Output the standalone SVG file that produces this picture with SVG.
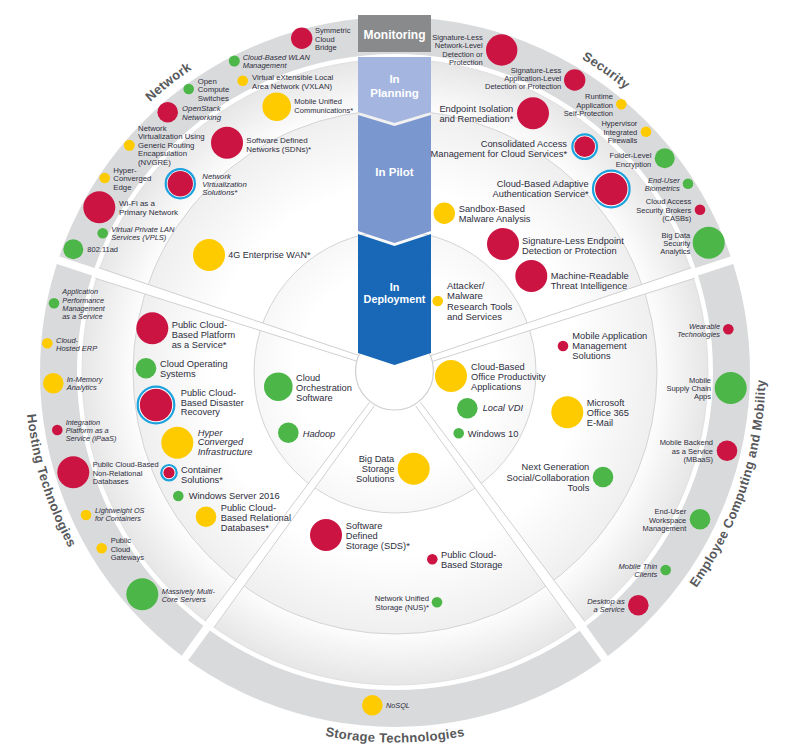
<svg xmlns="http://www.w3.org/2000/svg" width="793" height="756" viewBox="0 0 793 756">
<defs>
<style>
.t{font-family:"Liberation Sans",Arial,sans-serif;fill:#2e2e3d}
.a{font-size:7.5px}.a3{font-size:7.3px}.a8{font-size:7.8px}.a9{font-size:8px}
.b{font-size:9.3px}.b9{font-size:9px}
.i{font-style:italic}.e{text-anchor:end}
.r{fill:#cc1443}.y{fill:#fecb00}.g{fill:#4cb748}
.ring{fill:#fff;stroke:#1ca2dc;stroke-width:2.2}
.cat{font-family:"Liberation Sans",Arial,sans-serif;font-weight:bold;font-size:13px;fill:#58595b;letter-spacing:0.3px}
.col{font-family:"Liberation Sans",Arial,sans-serif;font-weight:bold;fill:#fff;text-anchor:middle}
.band{fill:#fff}
.edge{stroke:#d0d0d2;stroke-width:1;fill:none}
.gap{stroke:#fff;stroke-width:8;fill:none}
.rl{stroke:#d4d4d6;stroke-width:1}
</style>
<radialGradient id="g3"><stop offset="0.82" stop-color="#fff"/><stop offset="1" stop-color="#e6e6e7"/></radialGradient>
<radialGradient id="g2"><stop offset="0.7" stop-color="#fff"/><stop offset="1" stop-color="#efeff0"/></radialGradient>
<radialGradient id="g1"><stop offset="0.7" stop-color="#fff"/><stop offset="1" stop-color="#f7f7f7"/></radialGradient>
<path id="pNet" d="M52.5,247.3 A364.5,364.5 0 0,1 356.9,9.5"/>
<path id="pSec" d="M414.1,8.0 A364.5,364.5 0 0,1 730.5,229.6"/>
<path id="pEmp" d="M531.4,716.5 A370.5,370.5 0 0,0 710.6,177.9"/>
<path id="pSto" d="M111.2,610.2 A370.5,370.5 0 0,0 678.8,610.2"/>
<path id="pHos" d="M82.5,172.9 A370.5,370.5 0 0,0 253.2,714.3"/>
</defs>
<rect width="793" height="756" fill="#fff"/>

<g id="background">
<circle cx="395" cy="372" r="336.5" fill="none" stroke="#d9dadb" stroke-width="37"/>
<circle cx="395" cy="372" r="313" fill="url(#g3)" stroke="#dcdcde" stroke-width="0.8"/>
<circle cx="395" cy="372" r="262" fill="url(#g2)" class="rl"/>
<circle cx="395" cy="372" r="141" fill="url(#g1)" class="rl"/>
</g>

<g id="connectors">
<line class="gap" x1="97" y1="273" x2="30" y2="251"/>
<line class="gap" x1="693" y1="273" x2="760" y2="251"/>
<line class="gap" x1="209.6" y1="624.2" x2="170.7" y2="677.5"/>
<line class="gap" x1="580.5" y1="624.9" x2="618" y2="677"/>
<polygon class="band" points="360.93,356.15 98.71,267.77 95.29,278.23 359.07,361.85"/>
<line class="edge" x1="360.93" y1="356.15" x2="98.71" y2="267.77"/>
<line class="edge" x1="359.07" y1="361.85" x2="95.29" y2="278.23"/>
<polygon class="band" points="429.07,356.15 691.29,267.77 694.71,278.23 430.93,361.85"/>
<line class="edge" x1="429.07" y1="356.15" x2="691.29" y2="267.77"/>
<line class="edge" x1="430.93" y1="361.85" x2="694.71" y2="278.23"/>
<polygon class="band" points="374.41,405.78 214.03,627.46 205.17,620.94 369.59,402.22"/>
<line class="edge" x1="374.41" y1="405.78" x2="214.03" y2="627.46"/>
<line class="edge" x1="369.59" y1="402.22" x2="205.17" y2="620.94"/>
<polygon class="band" points="420.42,402.22 584.93,621.64 576.07,628.16 415.58,405.78"/>
<line class="edge" x1="420.42" y1="402.22" x2="584.93" y2="621.64"/>
<line class="edge" x1="415.58" y1="405.78" x2="576.07" y2="628.16"/>
<circle cx="394.5" cy="371" r="39" fill="#fff" stroke="#cfcfd1" stroke-width="1.2"/>
</g>

<g id="column">
<rect x="358" y="15" width="73" height="37" fill="#898a8c"/>
<text class="col" x="394.5" y="39.3" font-size="12">Monitoring</text>
<polygon points="358,57 431,57 431,112 394.5,123 358,112" fill="#a4b6df"/>
<text class="col" font-size="11.5"><tspan x="394.5" y="83.4">In</tspan><tspan x="394.5" y="97.4">Planning</tspan></text>
<polygon points="358,115 394.5,126 431,115 431,231 394.5,243 358,231" fill="#7a97cf"/>
<text class="col" x="394.5" y="175.8" font-size="11.5">In Pilot</text>
<polygon points="358,234 394.5,246 431,234 431,353 394.5,365 358,353" fill="#1868b7"/>
<text class="col" font-size="10.8"><tspan x="394.5" y="290.6">In</tspan><tspan x="394.5" y="302.9">Deployment</tspan></text>
</g>

<g id="categories">
<text class="cat"><textPath href="#pNet" startOffset="50%" text-anchor="middle">Network</textPath></text>
<text class="cat"><textPath href="#pSec" startOffset="50%" text-anchor="middle">Security</textPath></text>
<text class="cat"><textPath href="#pEmp" startOffset="50%" text-anchor="middle">Employee Computing and Mobility</textPath></text>
<text class="cat"><textPath href="#pSto" startOffset="50%" text-anchor="middle">Storage Technologies</textPath></text>
<text class="cat"><textPath href="#pHos" startOffset="50%" text-anchor="middle">Hosting Technologies</textPath></text>
</g>

<g id="n-wlan"><circle class="g" cx="234.3" cy="61" r="5.5"/><text class="t a i"><tspan x="242.7" y="60">Cloud-Based WLAN</tspan><tspan x="242.7" dy="8.4">Management</tspan></text></g>
<g id="n-vxlan"><circle class="y" cx="242.7" cy="80.7" r="5.3"/><text class="t a8"><tspan x="252" y="79.5">Virtual eXtensible Local</tspan><tspan x="252" dy="9">Area Network (VXLAN)</tspan></text></g>
<g id="n-occ"><circle class="g" cx="188.7" cy="89" r="5.3"/><text class="t a8"><tspan x="197.7" y="83.5">Open</tspan><tspan x="197.7" dy="8.5">Compute</tspan><tspan x="197.7" dy="8.5">Switches</tspan></text></g>
<g id="n-openstack"><circle class="r" cx="167.7" cy="112.3" r="10.3"/><text class="t a8 i"><tspan x="182" y="111.1">OpenStack</tspan><tspan x="182" dy="8.4">Networking</tspan></text></g>
<g id="n-nvgre"><circle class="y" cx="129.3" cy="145.3" r="5.5"/><text class="t a8"><tspan x="138" y="130.8">Network</tspan><tspan x="138" dy="8.5">Virtualization Using</tspan><tspan x="138" dy="8.5">Generic Routing</tspan><tspan x="138" dy="8.5">Encapsulation</tspan><tspan x="138" dy="8.5">(NVGRE)</tspan></text></g>
<g id="n-hce"><circle class="y" cx="104.7" cy="178" r="5.3"/><text class="t a8"><tspan x="113.3" y="172.5">Hyper-</tspan><tspan x="113.3" dy="8.5">Converged</tspan><tspan x="113.3" dy="8.5">Edge</tspan></text></g>
<g id="n-wifi"><circle class="r" cx="99.3" cy="207.3" r="16"/><text class="t a9"><tspan x="119" y="206.2">Wi-Fi as a</tspan><tspan x="119" dy="8.7">Primary Network</tspan></text></g>
<g id="n-vpls"><circle class="g" cx="102.7" cy="233.3" r="5.3"/><text class="t a i"><tspan x="111.3" y="232">Virtual Private LAN</tspan><tspan x="111.3" dy="8">Services (VPLS)</tspan></text></g>
<g id="n-80211ad"><circle class="g" cx="73.3" cy="249.3" r="10"/><text class="t a" x="87.3" y="252">802.11ad</text></g>
<g id="n-scb"><circle class="r" cx="301.7" cy="38.3" r="10.7"/><text class="t a"><tspan x="315" y="33.4">Symmetric</tspan><tspan x="315" dy="8.3">Cloud</tspan><tspan x="315" dy="8.3">Bridge</tspan></text></g>
<g id="n-muc"><circle class="y" cx="276.7" cy="106.7" r="14.3"/><text class="t a"><tspan x="294.3" y="104.4">Mobile Unified</tspan><tspan x="294.3" dy="8.3">Communications*</tspan></text></g>
<g id="n-sdn"><circle class="r" cx="227" cy="142.7" r="16"/><text class="t a9"><tspan x="246.3" y="142.9">Software Defined</tspan><tspan x="246.3" dy="9.3">Networks (SDNs)*</tspan></text></g>
<g id="n-nvs"><circle class="ring" cx="180.3" cy="183.7" r="14.6"/><circle class="r" cx="180.3" cy="183.7" r="12.7"/><text class="t a8 i"><tspan x="202.3" y="178.8">Network</tspan><tspan x="202.3" dy="8.3">Virtualization</tspan><tspan x="202.3" dy="8.3">Solutions*</tspan></text></g>
<g id="n-4g"><circle class="y" cx="209" cy="255" r="16"/><text class="t b9" x="228.3" y="258.2">4G Enterprise WAN*</text></g>

<g id="n-slnl"><circle class="r" cx="501.7" cy="50" r="15.7"/><text class="t a e"><tspan x="482.7" y="40">Signature-Less</tspan><tspan x="482.7" dy="8.3">Network-Level</tspan><tspan x="482.7" dy="8.3">Detection or</tspan><tspan x="482.7" dy="8.3">Protection</tspan></text></g>
<g id="n-slal"><circle class="r" cx="574.7" cy="80" r="10.7"/><text class="t a e"><tspan x="561.3" y="73.4">Signature-Less</tspan><tspan x="561.3" dy="8">Application-Level</tspan><tspan x="561.3" dy="8">Detection or Protection</tspan></text></g>
<g id="n-rasp"><circle class="y" cx="621.3" cy="104.3" r="5.3"/><text class="t a e"><tspan x="613" y="99.4">Runtime</tspan><tspan x="613" dy="8.3">Application</tspan><tspan x="613" dy="8.3">Self-Protection</tspan></text></g>
<g id="n-hif"><circle class="y" cx="646" cy="131.7" r="5.3"/><text class="t a e"><tspan x="637.3" y="126">Hypervisor</tspan><tspan x="637.3" dy="8.5">Integrated</tspan><tspan x="637.3" dy="8.5">Firewalls</tspan></text></g>
<g id="n-fle"><circle class="g" cx="664.7" cy="158.3" r="10"/><text class="t a e"><tspan x="651.3" y="158.4">Folder-Level</tspan><tspan x="651.3" dy="8.3">Encryption</tspan></text></g>
<g id="n-eub"><circle class="g" cx="688" cy="183.7" r="5.3"/><text class="t a e i"><tspan x="679.7" y="183">End-User</tspan><tspan x="679.7" dy="8">Biometrics</tspan></text></g>
<g id="n-casb"><circle class="r" cx="700" cy="209.7" r="5.3"/><text class="t a e"><tspan x="691.3" y="204.4">Cloud Access</tspan><tspan x="691.3" dy="8.5">Security Brokers</tspan><tspan x="691.3" dy="8.5">(CASBs)</tspan></text></g>
<g id="n-bdsa"><circle class="g" cx="708.7" cy="242.7" r="16"/><text class="t a e"><tspan x="690.3" y="238">Big Data</tspan><tspan x="690.3" dy="8">Security</tspan><tspan x="690.3" dy="8">Analytics</tspan></text></g>
<g id="n-eir"><circle class="r" cx="533" cy="113.3" r="16"/><text class="t b e"><tspan x="513.3" y="112.4">Endpoint Isolation</tspan><tspan x="513.3" dy="9.3">and Remediation*</tspan></text></g>
<g id="n-cam"><circle class="ring" cx="584.7" cy="146.7" r="12.3"/><circle class="r" cx="584.7" cy="146.7" r="10.4"/><text class="t b e"><tspan x="567" y="146.6">Consolidated Access</tspan><tspan x="567" dy="10">Management for Cloud Services*</tspan></text></g>
<g id="n-cbaa"><circle class="ring" cx="611.3" cy="189" r="18.3"/><circle class="r" cx="611.3" cy="189" r="16.2"/><text class="t b e"><tspan x="588.7" y="186.6">Cloud-Based Adaptive</tspan><tspan x="588.7" dy="10">Authentication Service*</tspan></text></g>
<g id="n-sbma"><circle class="y" cx="444.3" cy="213.3" r="10.7"/><text class="t b"><tspan x="458.7" y="212.3">Sandbox-Based</tspan><tspan x="458.7" dy="10">Malware Analysis</tspan></text></g>
<g id="n-slep"><circle class="r" cx="503" cy="244" r="16"/><text class="t b"><tspan x="522" y="244">Signature-Less Endpoint</tspan><tspan x="522" dy="10">Detection or Protection</tspan></text></g>
<g id="n-mrti"><circle class="r" cx="531.3" cy="276" r="16"/><text class="t b"><tspan x="550.7" y="279.3">Machine-Readable</tspan><tspan x="550.7" dy="10">Threat Intelligence</tspan></text></g>
<g id="n-amrt"><circle class="y" cx="437.7" cy="301" r="5.3"/><text class="t" font-size="9.5"><tspan x="447" y="289.1">Attacker/</tspan><tspan x="447" dy="10.3">Malware</tspan><tspan x="447" dy="10.3">Research Tools</tspan><tspan x="447" dy="10.3">and Services</tspan></text></g>

<g id="n-apm"><circle class="g" cx="54" cy="303.3" r="5.3"/><text class="t a3 i"><tspan x="62.3" y="294.3">Application</tspan><tspan x="62.3" dy="8.2">Performance</tspan><tspan x="62.3" dy="8.2">Management</tspan><tspan x="62.3" dy="8.2">as a Service</tspan></text></g>
<g id="n-che"><circle class="y" cx="47.3" cy="343.3" r="5.3"/><text class="t a i"><tspan x="56" y="342.7">Cloud-</tspan><tspan x="56" dy="8.3">Hosted ERP</tspan></text></g>
<g id="n-ima"><circle class="y" cx="53.3" cy="383.3" r="10.3"/><text class="t a i"><tspan x="66.7" y="382">In-Memory</tspan><tspan x="66.7" dy="8">Analytics</tspan></text></g>
<g id="n-ipaas"><circle class="r" cx="57.3" cy="430" r="5.3"/><text class="t a3 i"><tspan x="65.7" y="424.9">Integration</tspan><tspan x="65.7" dy="8">Platform as a</tspan><tspan x="65.7" dy="8">Service (iPaaS)</tspan></text></g>
<g id="n-nrdb"><circle class="r" cx="73.3" cy="472.3" r="16"/><text class="t a"><tspan x="92.7" y="467.4">Public Cloud-Based</tspan><tspan x="92.7" dy="8.3">Non-Relational</tspan><tspan x="92.7" dy="8.3">Databases</tspan></text></g>
<g id="n-lwos"><circle class="y" cx="86" cy="515" r="5.3"/><text class="t a3 i"><tspan x="95" y="513.3">Lightweight OS</tspan><tspan x="95" dy="7.7">for Containers</tspan></text></g>
<g id="n-pcg"><circle class="y" cx="101.7" cy="548.3" r="5.3"/><text class="t a"><tspan x="110.7" y="543.4">Public</tspan><tspan x="110.7" dy="8.3">Cloud</tspan><tspan x="110.7" dy="8.3">Gateways</tspan></text></g>
<g id="n-mmcs"><circle class="g" cx="142.3" cy="594.3" r="16"/><text class="t a i"><tspan x="161.7" y="593.7">Massively Multi-</tspan><tspan x="161.7" dy="8">Core Servers</tspan></text></g>
<g id="n-pcbp"><circle class="r" cx="152.3" cy="328.3" r="16"/><text class="t b"><tspan x="171.7" y="328.4">Public Cloud-</tspan><tspan x="171.7" dy="9.8">Based Platform</tspan><tspan x="171.7" dy="9.8">as a Service*</tspan></text></g>
<g id="n-cos"><circle class="g" cx="146" cy="368.3" r="10.3"/><text class="t b"><tspan x="160" y="366.7">Cloud Operating</tspan><tspan x="160" dy="9.8">Systems</tspan></text></g>
<g id="n-pcdr"><circle class="ring" cx="156" cy="405" r="18.3"/><circle class="r" cx="156" cy="405" r="16.2"/><text class="t b"><tspan x="180.7" y="395.7">Public Cloud-</tspan><tspan x="180.7" dy="9.8">Based Disaster</tspan><tspan x="180.7" dy="9.8">Recovery</tspan></text></g>
<g id="n-hci"><circle class="y" cx="177.3" cy="442.7" r="16"/><text class="t b i"><tspan x="197.7" y="435.7">Hyper</tspan><tspan x="197.7" dy="9.7">Converged</tspan><tspan x="197.7" dy="9.7">Infrastructure</tspan></text></g>
<g id="n-cs"><circle class="ring" cx="169" cy="472.7" r="7.7"/><circle class="r" cx="169" cy="472.7" r="5.6"/><text class="t b"><tspan x="181" y="473.4">Container</tspan><tspan x="181" dy="9.7">Solutions*</tspan></text></g>
<g id="n-ws16"><circle class="g" cx="178.3" cy="496" r="5.3"/><text class="t b" x="188.7" y="499.4">Windows Server 2016</text></g>
<g id="n-pcrdb"><circle class="y" cx="206" cy="516.7" r="10.3"/><text class="t b"><tspan x="220.7" y="511.4">Public Cloud-</tspan><tspan x="220.7" dy="9.8">Based Relational</tspan><tspan x="220.7" dy="9.8">Databases*</tspan></text></g>
<g id="n-cor"><circle class="g" cx="278.3" cy="386.7" r="14.3"/><text class="t b"><tspan x="296" y="381">Cloud</tspan><tspan x="296" dy="10">Orchestration</tspan><tspan x="296" dy="10">Software</tspan></text></g>
<g id="n-hadoop"><circle class="g" cx="288.3" cy="432.7" r="10.3"/><text class="t b i" x="302.7" y="436.7">Hadoop</text></g>

<g id="n-cbopa"><circle class="y" cx="451" cy="376" r="16"/><text class="t b"><tspan x="471" y="370">Cloud-Based</tspan><tspan x="471" dy="10">Office Productivity</tspan><tspan x="471" dy="10">Applications</tspan></text></g>
<g id="n-lvdi"><circle class="g" cx="467.3" cy="408.3" r="10.3"/><text class="t b i" x="482.7" y="411">Local VDI</text></g>
<g id="n-w10"><circle class="g" cx="458.7" cy="433.3" r="5.3"/><text class="t b" x="467.7" y="436.7">Windows 10</text></g>
<g id="n-mam"><circle class="r" cx="563" cy="346" r="5.3"/><text class="t b"><tspan x="572.3" y="339.4">Mobile Application</tspan><tspan x="572.3" dy="10">Management</tspan><tspan x="572.3" dy="10">Solutions</tspan></text></g>
<g id="n-mso"><circle class="y" cx="567.3" cy="412.3" r="16"/><text class="t b"><tspan x="586.7" y="406.4">Microsoft</tspan><tspan x="586.7" dy="9.8">Office 365</tspan><tspan x="586.7" dy="9.8">E-Mail</tspan></text></g>
<g id="n-ngsc"><circle class="g" cx="603" cy="477" r="10.3"/><text class="t b e"><tspan x="589.3" y="470.4">Next Generation</tspan><tspan x="589.3" dy="10.2">Social/Collaboration</tspan><tspan x="589.3" dy="10.2">Tools</tspan></text></g>
<g id="n-wt"><circle class="r" cx="728.3" cy="329.3" r="5.3"/><text class="t a3 e i"><tspan x="720" y="328.9">Wearable</tspan><tspan x="720" dy="8">Technologies</tspan></text></g>
<g id="n-msca"><circle class="g" cx="730.7" cy="388" r="16"/><text class="t a e"><tspan x="711" y="383">Mobile</tspan><tspan x="711" dy="8.2">Supply Chain</tspan><tspan x="711" dy="8.2">Apps</tspan></text></g>
<g id="n-mbaas"><circle class="r" cx="727" cy="450.7" r="10.3"/><text class="t a e"><tspan x="713" y="445">Mobile Backend</tspan><tspan x="713" dy="8.7">as a Service</tspan><tspan x="713" dy="8.7">(MBaaS)</tspan></text></g>
<g id="n-euwm"><circle class="g" cx="700" cy="519.3" r="10.3"/><text class="t a e"><tspan x="686.3" y="514.4">End-User</tspan><tspan x="686.3" dy="8.3">Workspace</tspan><tspan x="686.3" dy="8.3">Management</tspan></text></g>
<g id="n-mtc"><circle class="g" cx="665.7" cy="570" r="5.3"/><text class="t a e i"><tspan x="657.3" y="569">Mobile Thin</tspan><tspan x="657.3" dy="8">Clients</tspan></text></g>
<g id="n-daas"><circle class="r" cx="638.3" cy="605.3" r="10.3"/><text class="t a e i"><tspan x="624.7" y="604">Desktop as</tspan><tspan x="624.7" dy="8">a Service</tspan></text></g>

<g id="n-bdss"><circle class="y" cx="413.7" cy="468.7" r="16"/><text class="t b e"><tspan x="394.3" y="462.4">Big Data</tspan><tspan x="394.3" dy="9.8">Storage</tspan><tspan x="394.3" dy="9.8">Solutions</tspan></text></g>
<g id="n-sds"><circle class="r" cx="326" cy="535" r="16"/><text class="t b"><tspan x="345.7" y="529">Software</tspan><tspan x="345.7" dy="10.2">Defined</tspan><tspan x="345.7" dy="10.2">Storage (SDS)*</tspan></text></g>
<g id="n-pcbs"><circle class="r" cx="432.3" cy="559.3" r="5.3"/><text class="t b"><tspan x="441" y="558.4">Public Cloud-</tspan><tspan x="441" dy="10">Based Storage</tspan></text></g>
<g id="n-nus"><circle class="g" cx="437" cy="602.3" r="5.3"/><text class="t e" font-size="7.7"><tspan x="429" y="601.1">Network Unified</tspan><tspan x="429" dy="9">Storage (NUS)*</tspan></text></g>
<g id="n-nosql"><circle class="y" cx="372.3" cy="705.3" r="10.3"/><text class="t a3 i" x="386" y="707.9">NoSQL</text></g>
</svg>
